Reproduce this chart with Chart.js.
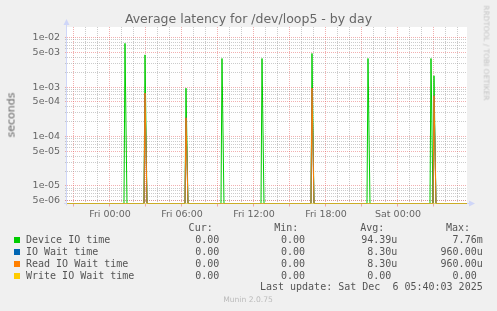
<!DOCTYPE html>
<html>
<head>
<meta charset="utf-8">
<title>Average latency for /dev/loop5 - by day</title>
<script src="https://cdn.jsdelivr.net/npm/chart.js@4.4.1/dist/chart.umd.min.js"></script>
<style>
  body { margin: 0; background: #f0f0f0; }
  #wrap { position: relative; width: 497px; height: 311px; overflow: hidden; font-family: "DejaVu Sans", sans-serif; color: #666; }
  #chart { position: absolute; left: 0; top: 0; }
  .txt { position: absolute; white-space: pre; line-height: 1; }
  .mono { font-family: "DejaVu Sans Mono", monospace; color: #555; }
  .sq { position: absolute; width: 6px; height: 6px; }
</style>
</head>
<body>
<div id="wrap">
  <canvas id="chart" width="497" height="311"></canvas>
</div>
<script>
// time in hours relative to Fri 00:00, 5 minute samples
const xMin = -3.5833;
const xMax = 29.75;
const sampleStep = 5 / 60;

const xTickHours = [0, 6, 12, 18, 24];
const xTickLabels = ["Fri 00:00", "Fri 06:00", "Fri 12:00", "Fri 18:00", "Sat 00:00"];

const yMin = 4.4e-6;
const yMax = 1.65e-2;
const yTickValues = [1e-2, 5e-3, 1e-3, 5e-4, 1e-4, 5e-5, 1e-5, 5e-6];
const yTickLabels = ["1e-02", "5e-03", "1e-03", "5e-04", "1e-04", "5e-05", "1e-05", "5e-06"];

// samples that are not zero (everything else reads 0)
const spikeHours = [1.25, 2.9167, 6.3333, 9.3333, 12.6667, 16.8333, 21.5, 26.75, 27.0];
const deviceIOTime = [7.7e-3, 4.5e-3, 9.5e-4, 3.8e-3, 3.8e-3, 4.8e-3, 3.8e-3, 3.8e-3, 1.7e-3];
const ioWaitTime = [0, 7.6e-4, 2.4e-4, 0, 0, 9.6e-4, 0, 0, 6.7e-4];
const readIOWaitTime = [0, 7.6e-4, 2.4e-4, 0, 0, 9.6e-4, 0, 0, 6.7e-4];
const writeIOWaitTime = [0, 0, 0, 0, 0, 0, 0, 0, 0];

const seriesNames = ["Device IO time", "IO Wait time", "Read IO Wait time", "Write IO Wait time"];
const seriesColors = ["#00cc00", "#0066b3", "#ff8000", "#ffcc00"];
const curValues = ["0.00", "0.00", "0.00", "0.00"];
const minValues = ["0.00", "0.00", "0.00", "0.00"];
const avgValues = ["94.39u", "8.30u", "8.30u", "0.00 "];
const maxValues = ["7.76m", "960.00u", "960.00u", "0.00 "];
const lastUpdate = "Last update: Sat Dec  6 05:40:03 2025";

const majorGrid = "rgba(226,79,79,0.45)";
const minorGrid = "rgba(143,143,143,0.45)";
const axisColor = "#cfd6f8";

// zero can't sit on a log axis, rrdtool draws it on the floor
function toPoints(values) {
  let pts = [{ x: xMin, y: yMin }];
  for (let i = 0; i < spikeHours.length; i++) {
    if (values[i] > 0) {
      pts.push({ x: spikeHours[i] - sampleStep, y: yMin });
      pts.push({ x: spikeHours[i], y: values[i] });
      pts.push({ x: spikeHours[i] + 2 * sampleStep, y: yMin });
    }
  }
  pts.push({ x: xMax, y: yMin });
  return pts;
}

let yGridValues = [];
for (let e = -6; e <= -2; e++) {
  for (let m = 1; m <= 9; m++) {
    let v = m * Math.pow(10, e);
    if (yTickValues.includes(v)) continue;
    if (v >= yMin && v <= yMax) yGridValues.push(v);
  }
}
yGridValues = yGridValues.concat(yTickValues);

let xGridHours = [];
for (let h = -3; h <= 29; h++) xGridHours.push(h);

const allSeries = [deviceIOTime, ioWaitTime, readIOWaitTime, writeIOWaitTime];

const frame = {
  id: "frame",
  beforeDraw(chart) {
    const a = chart.chartArea;
    const c = chart.ctx;
    c.save();
    c.fillStyle = "#ffffff";
    c.fillRect(a.left, a.top, a.right - a.left, a.bottom - a.top);
    c.restore();
  },
  beforeDatasetsDraw(chart) {
    const a = chart.chartArea;
    const c = chart.ctx;
    c.save();
    c.strokeStyle = axisColor;
    c.fillStyle = axisColor;
    c.lineWidth = 1;
    c.beginPath();
    c.moveTo(a.left - 0.5, a.bottom + 2);
    c.lineTo(a.left - 0.5, a.top - 4);
    c.moveTo(a.left - 3, a.bottom);
    c.lineTo(a.right + 3, a.bottom);
    c.stroke();
    c.beginPath();
    c.moveTo(a.left - 0.5, a.top - 8);
    c.lineTo(a.left - 3.5, a.top - 2);
    c.lineTo(a.left + 2.5, a.top - 2);
    c.fill();
    c.beginPath();
    c.moveTo(a.right + 8, a.bottom);
    c.lineTo(a.right + 2, a.bottom - 3);
    c.lineTo(a.right + 2, a.bottom + 3);
    c.fill();
    c.restore();
  },
};

Chart.defaults.font.family = "'DejaVu Sans', sans-serif";
Chart.defaults.color = "#666";

new Chart(document.getElementById("chart"), {
  type: "line",
  data: {
    datasets: allSeries.map((s, i) => ({
      label: seriesNames[i],
      data: toPoints(s),
      borderColor: seriesColors[i],
      borderWidth: 1,
      pointRadius: 0,
      tension: 0,
      order: 3 - i,
    })),
  },
  options: {
    responsive: false,
    animation: false,
    events: [],
    layout: { padding: { left: 0, top: 27, right: 30, bottom: 87.5 } },
    plugins: {
      legend: { display: false },
      tooltip: { enabled: false },
    },
    scales: {
      x: {
        type: "linear",
        min: xMin,
        max: xMax,
        afterBuildTicks: (scale) => {
          scale.ticks = xGridHours.map((v) => ({ value: v }));
        },
        afterFit: (scale) => {
          scale.height = 20;
        },
        grid: {
          color: (c) => (c.tick && c.tick.value % 3 === 0 ? majorGrid : minorGrid),
          tickColor: (c) => (c.tick && c.tick.value % 3 === 0 ? majorGrid : "rgba(0,0,0,0)"),
          tickLength: 3,
        },
        border: { display: false, dash: [1, 1] },
        ticks: {
          autoSkip: false,
          maxRotation: 0,
          padding: 2,
          font: { size: 9.5 },
          color: "#666",
          callback: (v) => {
            let i = xTickHours.indexOf(v);
            return i >= 0 ? xTickLabels[i] : "";
          },
        },
      },
      y: {
        type: "logarithmic",
        min: yMin,
        max: yMax,
        afterBuildTicks: (scale) => {
          scale.ticks = yGridValues.map((v) => ({ value: v }));
        },
        afterFit: (scale) => {
          scale.width = 67;
        },
        grid: {
          color: (c) => (c.tick && yTickValues.includes(c.tick.value) ? majorGrid : minorGrid),
          tickColor: (c) => (c.tick && yTickValues.includes(c.tick.value) ? majorGrid : minorGrid),
          tickLength: 2,
        },
        border: { display: false, dash: [1, 1] },
        ticks: {
          autoSkip: false,
          padding: 5,
          font: { size: 9.5 },
          color: "#666",
          callback: (v) => {
            let i = yTickValues.indexOf(v);
            return i >= 0 ? yTickLabels[i] : "";
          },
        },
      },
    },
  },
  plugins: [frame],
});

// text around the plot
const wrap = document.getElementById("wrap");

function addText(text, x, baseline, size, align, cls, color) {
  let d = document.createElement("div");
  d.className = "txt " + (cls || "");
  d.textContent = text;
  d.style.fontSize = size + "px";
  d.style.top = baseline - 0.846 * size + "px";
  if (color) d.style.color = color;
  if (align === "right") {
    d.style.right = 497 - x + "px";
  } else if (align === "center") {
    d.style.left = x + "px";
    d.style.transform = "translateX(-50%)";
  } else {
    d.style.left = x + "px";
  }
  wrap.appendChild(d);
  return d;
}

function addRotated(text, cx, cy, size, deg, color) {
  let d = document.createElement("div");
  d.className = "txt";
  d.textContent = text;
  d.style.fontSize = size + "px";
  d.style.left = cx + "px";
  d.style.top = cy + "px";
  d.style.color = color;
  d.style.transform = "translate(-50%, -50%) rotate(" + deg + "deg)";
  wrap.appendChild(d);
}

addText("Average latency for /dev/loop5 - by day", 248.5, 23.3, 12.5, "center", "", "#666");
addRotated("seconds", 11, 115, 11, -90, "#666");
addRotated("RRDTOOL / TOBI OETIKER", 486, 52.5, 7.4, 90, "#c4c4c4");

const headerBase = 231.7;
addText("Cur:", 212.7, headerBase, 10, "right", "mono");
addText("Min:", 298.3, headerBase, 10, "right", "mono");
addText("Avg:", 384.3, headerBase, 10, "right", "mono");
addText("Max:", 470, headerBase, 10, "right", "mono");

for (let i = 0; i < seriesNames.length; i++) {
  let base = 243 + i * 12;
  let sq = document.createElement("div");
  sq.className = "sq";
  sq.style.left = "14px";
  sq.style.top = base - 6 + "px";
  sq.style.background = seriesColors[i];
  wrap.appendChild(sq);
  addText(seriesNames[i], 26, base, 10, "left", "mono");
  addText(curValues[i], 219.3, base, 10, "right", "mono");
  addText(minValues[i], 305, base, 10, "right", "mono");
  addText(avgValues[i], 397.3, base, 10, "right", "mono");
  addText(maxValues[i], 482.7, base, 10, "right", "mono");
}

addText(lastUpdate, 482.7, 290.8, 10, "right", "mono");
addText("Munin 2.0.75", 248, 302.7, 7.6, "center", "", "#bbbbbb");
</script>
</body>
</html>
